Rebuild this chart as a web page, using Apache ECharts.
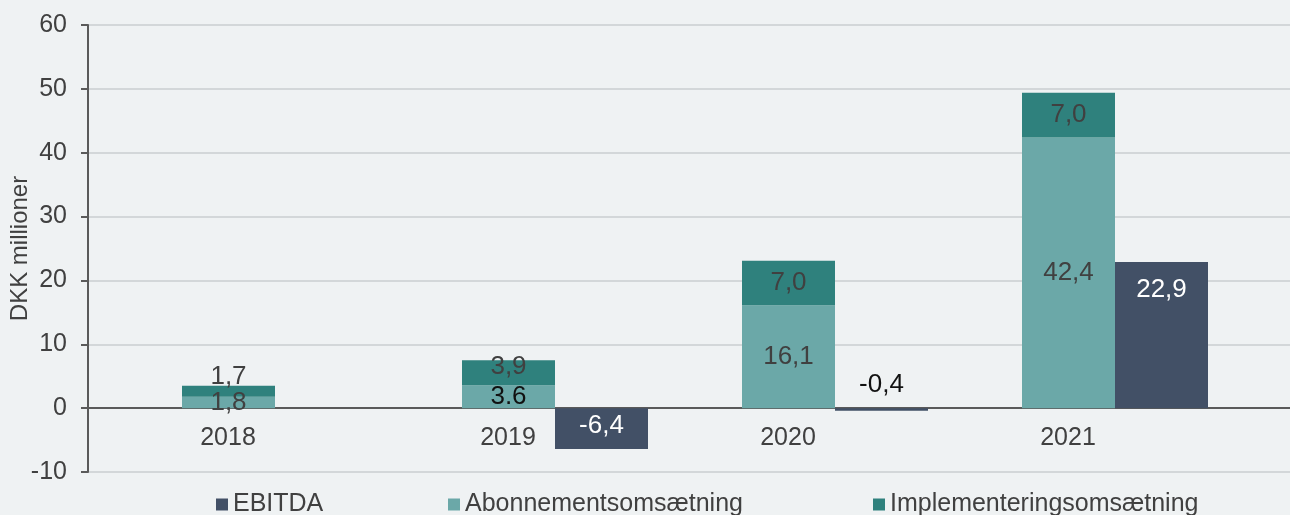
<!DOCTYPE html>
<html>
<head>
<meta charset="utf-8">
<script src="https://cdn.jsdelivr.net/npm/echarts@6/dist/echarts.min.js"></script>
<style>
  html, body { margin: 0; padding: 0; background: #EFF2F3; }
  #chart { width: 1290px; height: 515px; }
</style>
</head>
<body>
<div id="chart"></div>
<script>
// ---- data ----
const categories = ['2018', '2019', '2020', '2021'];
const abonnement = [1.8, 3.6, 16.1, 42.4];
const abonnementLabels = ['1,8', '3.6', '16,1', '42,4'];
const implementering = [1.7, 3.9, 7.0, 7.0];
const implementeringLabels = ['1,7', '3,9', '7,0', '7,0'];
const ebitda = [null, -6.4, -0.4, 22.9];
const ebitdaLabels = ['', '-6,4', '-0,4', '22,9'];
const yTicks = [-10, 0, 10, 20, 30, 40, 50, 60];

const FONT = 'Liberation Sans, Arial, Helvetica, sans-serif';
const TXT = '#404040';
const C_EBITDA = '#425066';
const C_ABON = '#6BA8A8';
const C_IMPL = '#2F817D';

// per-item label tweaks (positions only)
const implOffsets = [[0, -14], [0, -6], [0, 0], [0, 0]];

const abonData = abonnement.map((v, i) => ({
  value: v,
  label: { formatter: abonnementLabels[i], color: i === 1 ? '#111' : TXT }
}));
const implData = implementering.map((v, i) => ({
  value: v,
  label: { formatter: implementeringLabels[i], offset: implOffsets[i] }
}));
const ebitdaData = ebitda.map((v, i) => {
  if (v === null) return '-';
  let label;
  if (v > 0) label = { position: 'insideTop', distance: 15, color: '#fff' };
  else if (v > -1) label = { position: 'top', distance: 10, color: '#111' };
  else label = { position: 'inside', offset: [0, -3], color: '#fff' };
  label.formatter = ebitdaLabels[i];
  return { value: v, label: label };
});

const chart = echarts.init(document.getElementById('chart'), null, { renderer: 'canvas' });
const legendBase = {
  orient: 'horizontal', top: 492, padding: 0,
  icon: 'rect', itemWidth: 12, itemHeight: 12,
  textStyle: { fontFamily: FONT, fontSize: 25, color: TXT },
  selectedMode: false
};

chart.setOption({
  backgroundColor: '#EFF2F3',
  animation: false,
  textStyle: { fontFamily: FONT },
  legend: [
    Object.assign({}, legendBase, { left: 216, data: ['EBITDA'] }),
    Object.assign({}, legendBase, { left: 448, data: ['Abonnementsomsætning'] }),
    Object.assign({}, legendBase, { left: 873, data: ['Implementeringsomsætning'] })
  ],
  grid: [
    { left: 135, right: 35, top: 25, bottom: 43, outerBoundsMode: 'none', containLabel: false },
    { left: 88, right: 0, top: 25, bottom: 43, outerBoundsMode: 'none', containLabel: false }
  ],
  xAxis: [
    {
      type: 'category', gridIndex: 0, data: categories,
      position: 'bottom', offset: -64,
      axisLine: { show: false, onZero: false },
      axisTick: { show: false },
      axisLabel: {
        fontFamily: FONT, fontSize: 25, color: TXT, margin: 18,
        padding: [0, 94, 0, 0]
      },
      splitLine: { show: false }
    },
    {
      type: 'value', gridIndex: 1, min: 0, max: 1,
      axisLine: { show: true, onZero: true, lineStyle: { color: '#5A5A5A', width: 2 } },
      axisTick: { show: false }, axisLabel: { show: false }, splitLine: { show: false }
    }
  ],
  yAxis: [
    {
      type: 'value', gridIndex: 0, min: -10, max: 60, interval: 10,
      show: false, splitLine: { show: false }
    },
    {
      type: 'value', gridIndex: 1, min: yTicks[0], max: yTicks[yTicks.length - 1], interval: 10,
      name: 'DKK millioner', nameLocation: 'middle', nameGap: 56, nameRotate: 90,
      nameMoveOverlap: false,
      nameTextStyle: { fontFamily: FONT, fontSize: 24, color: TXT },
      axisLine: { show: true, lineStyle: { color: '#5A5A5A', width: 2 } },
      axisTick: { show: true, inside: false, length: 7, lineStyle: { color: '#5A5A5A', width: 2 } },
      axisLabel: { fontFamily: FONT, fontSize: 25, color: TXT, margin: 21 },
      splitLine: { show: true, lineStyle: { color: '#D3D7D9', width: 2 } }
    }
  ],
  series: [
    {
      name: 'Abonnementsomsætning', type: 'bar', stack: 'omsaetning',
      xAxisIndex: 0, yAxisIndex: 0, barWidth: 93, barGap: '0%',
      itemStyle: { color: C_ABON },
      label: { show: true, position: 'inside', fontFamily: FONT, fontSize: 26, color: TXT },
      data: abonData
    },
    {
      name: 'Implementeringsomsætning', type: 'bar', stack: 'omsaetning',
      xAxisIndex: 0, yAxisIndex: 0, barWidth: 93, barGap: '0%',
      itemStyle: { color: C_IMPL },
      label: { show: true, position: 'inside', fontFamily: FONT, fontSize: 26, color: TXT },
      data: implData
    },
    {
      name: 'EBITDA', type: 'bar',
      xAxisIndex: 0, yAxisIndex: 0, barWidth: 93, barGap: '0%',
      itemStyle: { color: C_EBITDA },
      label: { show: true, fontFamily: FONT, fontSize: 26 },
      data: ebitdaData
    }
  ]
});
</script>
</body>
</html>
